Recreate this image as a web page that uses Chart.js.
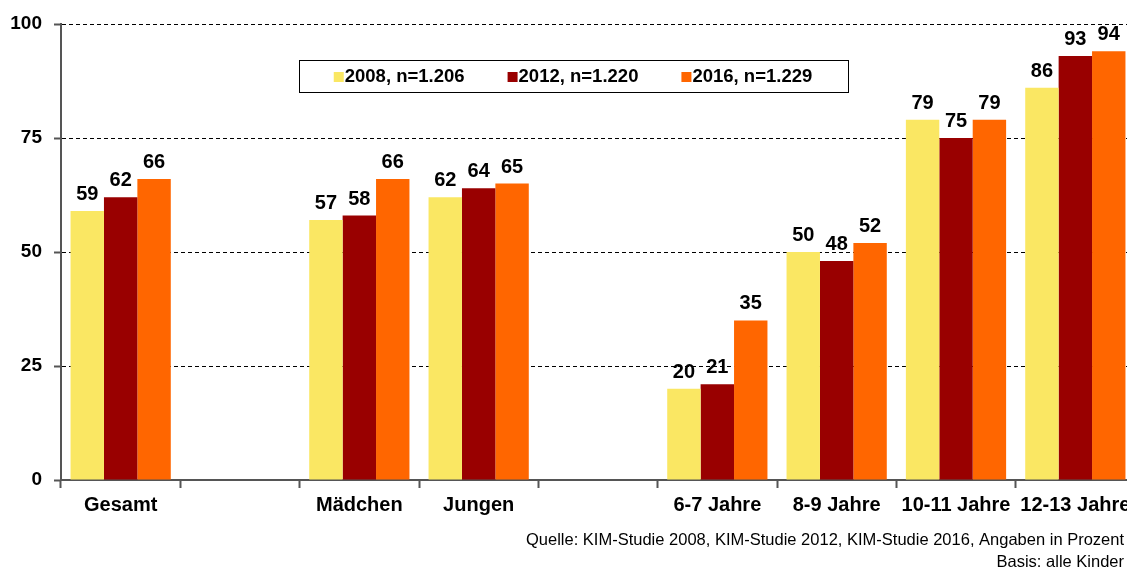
<!DOCTYPE html>
<html>
<head>
<meta charset="utf-8">
<script src="https://cdn.jsdelivr.net/npm/chart.js@4/dist/chart.umd.min.js"></script>
<style>
  body { margin: 0; overflow: hidden; background: #fff; }
  #wrap { width: 1140px; height: 570px; }
</style>
</head>
<body>
<div id="wrap"><canvas id="myChart"></canvas></div>
<script>
// categories (blank slots are the gaps between groups)
const categories = ['Gesamt', '', 'Mädchen', 'Jungen', '', '6-7 Jahre', '8-9 Jahre', '10-11 Jahre', '12-13 Jahre'];
const seriesNames = ['2008, n=1.206', '2012, n=1.220', '2016, n=1.229'];
const values2008 = [59, null, 57, 62, null, 20, 50, 79, 86];
const values2012 = [62, null, 58, 64, null, 21, 48, 75, 93];
const values2016 = [66, null, 66, 65, null, 35, 52, 79, 94];
const yTicks = [0, 25, 50, 75, 100];
const sourceLines = ['Quelle: KIM-Studie 2008, KIM-Studie 2012, KIM-Studie 2016, Angaben in Prozent', 'Basis: alle Kinder'];

const colors = ['#FAE763', '#990000', '#FF6600'];
const FONT = '"Liberation Sans", Arial, sans-serif';

// value labels above the bars
const valueLabels = {
    id: 'valueLabels',
    afterDatasetsDraw(chart) {
        const ctx = chart.ctx;
        ctx.save();
        ctx.font = 'bold 20px ' + FONT;
        ctx.fillStyle = '#000';
        ctx.textAlign = 'center';
        ctx.textBaseline = 'alphabetic';
        chart.data.datasets.forEach((ds, i) => {
            chart.getDatasetMeta(i).data.forEach((bar, j) => {
                if (ds.data[j] == null) return;
                ctx.fillText(ds.data[j], bar.x, bar.y - 11);
            });
        });
        ctx.restore();
    }
};

// boxed legend inside the plot
const boxLegend = {
    id: 'boxLegend',
    afterDraw(chart) {
        const ctx = chart.ctx;
        const area = chart.chartArea;
        ctx.save();
        ctx.font = 'bold 18.5px ' + FONT;
        ctx.textBaseline = 'middle';
        const gap = 42, sq = 10;
        const widths = chart.data.datasets.map(ds => ctx.measureText(ds.label).width);
        let total = widths.reduce((a, b) => a + b, 0) + widths.length * (sq + 2) + gap * (widths.length - 1);
        const boxW = 549, boxH = 32;
        const boxX = area.left + 238, boxY = area.top + 36;
        ctx.fillStyle = '#fff';
        ctx.fillRect(boxX, boxY, boxW, boxH);
        ctx.strokeStyle = '#000';
        ctx.lineWidth = 1;
        ctx.strokeRect(boxX + 0.5, boxY + 0.5, boxW, boxH);
        let x = boxX + (boxW - total) / 2;
        const cy = boxY + boxH / 2 + 1;
        chart.data.datasets.forEach((ds, i) => {
            ctx.fillStyle = ds.backgroundColor;
            ctx.fillRect(x, cy - sq / 2, sq, sq);
            ctx.fillStyle = '#000';
            ctx.fillText(ds.label, x + sq + 1, cy);
            x += sq + 2 + widths[i] + gap;
        });
        ctx.restore();
    }
};

// source note bottom right
const sourceNote = {
    id: 'sourceNote',
    afterDraw(chart) {
        const ctx = chart.ctx;
        ctx.save();
        ctx.font = '16.5px ' + FONT;
        ctx.fillStyle = '#000';
        ctx.textAlign = 'right';
        ctx.textBaseline = 'middle';
        ctx.fillText(sourceLines[0], 1124, 540);
        ctx.fillText(sourceLines[1], 1124, 562);
        ctx.restore();
    }
};

var ctx = document.getElementById('myChart').getContext('2d');
var chart = new Chart(ctx, {
    type: 'bar',
    data: {
        labels: categories,
        datasets: [values2008, values2012, values2016].map((d, i) => ({
            label: seriesNames[i],
            data: d,
            backgroundColor: colors[i],
            borderWidth: 0,
            barPercentage: 1,
            categoryPercentage: 0.84
        }))
    },
    options: {
        responsive: true,
        maintainAspectRatio: false,
        animation: false,
        layout: { padding: { top: 24, right: 5, left: 0, bottom: 0 } },
        plugins: {
            legend: { display: false },
            tooltip: { enabled: false }
        },
        scales: {
            x: {
                offset: true,
                afterFit(scale) { scale.height = 90; },
                grid: {
                    drawOnChartArea: false,
                    drawTicks: true,
                    tickLength: 8,
                    tickColor: '#555',
                    tickWidth: 2,
                    offset: true
                },
                border: { color: '#555', width: 2 },
                ticks: {
                    autoSkip: false,
                    maxRotation: 0,
                    padding: 5,
                    color: '#000',
                    font: { family: FONT, size: 20, weight: 'bold' }
                }
            },
            y: {
                min: 0,
                max: 100,
                afterFit(scale) { scale.width = 61; },
                afterBuildTicks(scale) { scale.ticks = yTicks.map(v => ({ value: v })); },
                grid: {
                    color: c => (c.tick && c.tick.value === 0) ? 'rgba(0,0,0,0)' : '#000',
                    lineWidth: 1,
                    tickLength: 7,
                    tickColor: '#555',
                    tickWidth: 2
                },
                border: { color: '#555', width: 2, dash: [4, 3] },
                ticks: {
                    padding: 12,
                    color: '#000',
                    font: { family: FONT, size: 19, weight: 'bold' }
                }
            }
        }
    },
    plugins: [valueLabels, boxLegend, sourceNote]
});
</script>
</body>
</html>
